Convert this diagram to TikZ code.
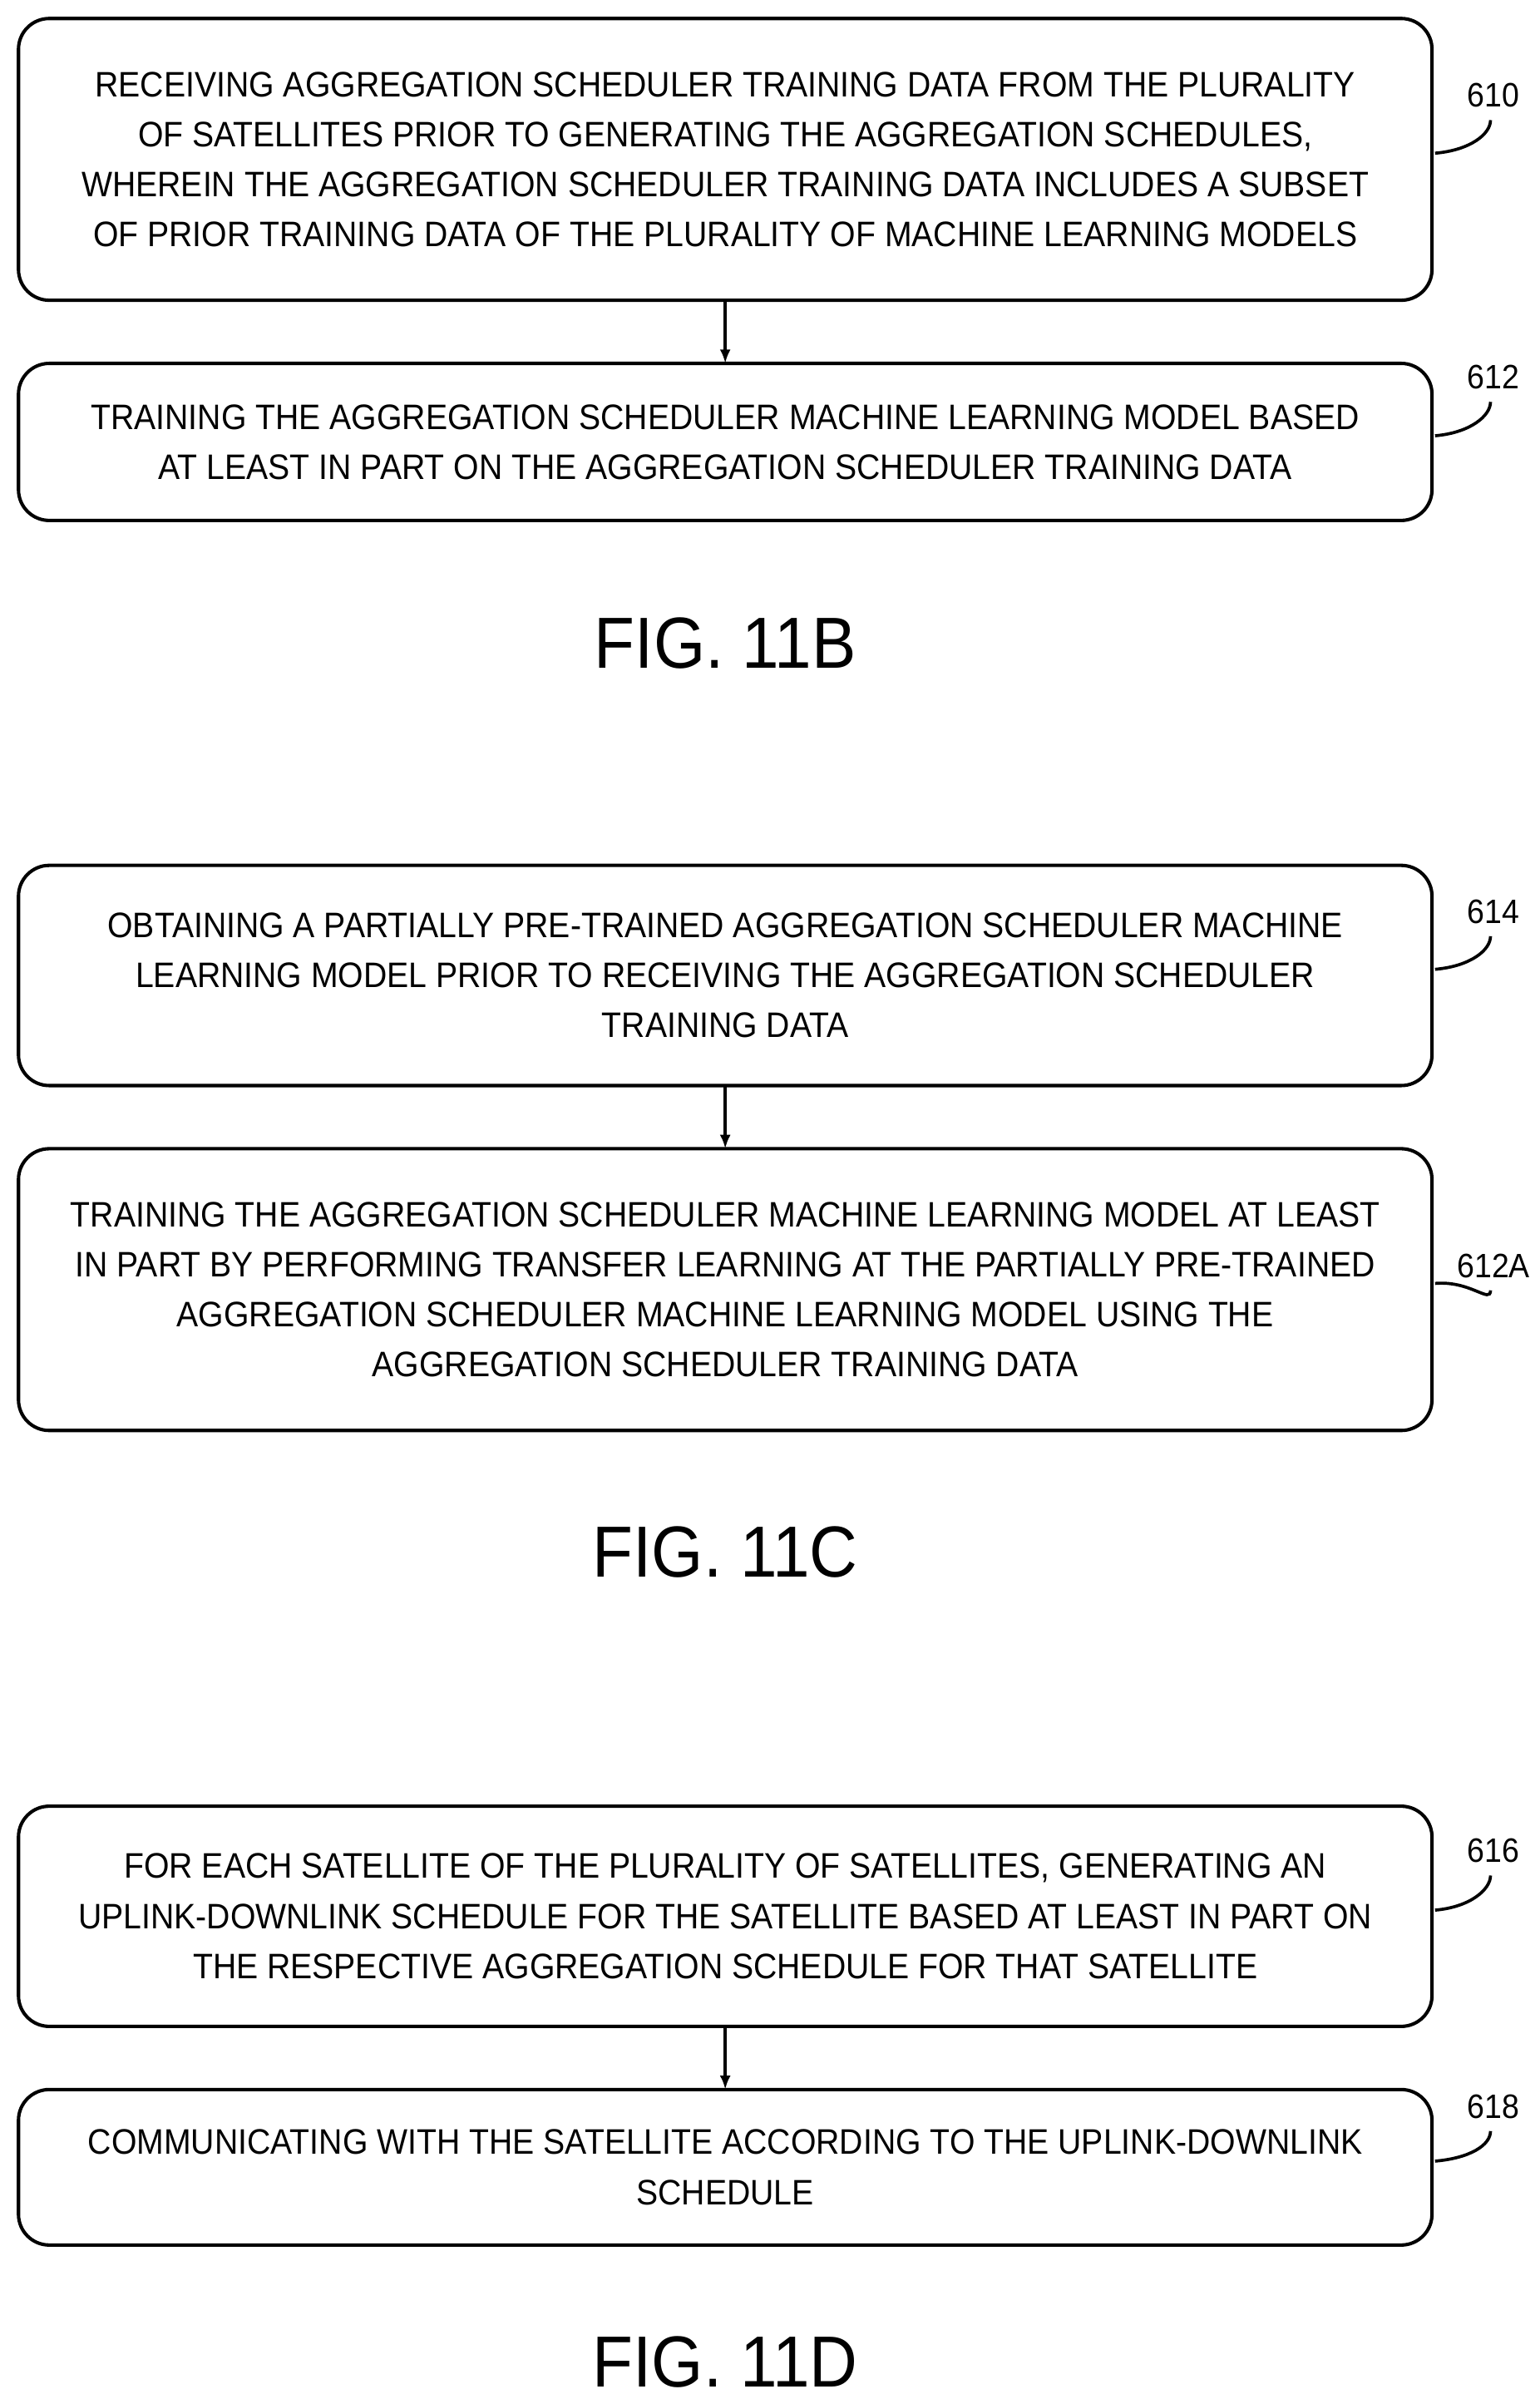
\documentclass[tikz,border=0pt]{standalone}
\usepackage{fontspec}
\setmainfont[FakeStretch=0.92]{Liberation Sans}
\usetikzlibrary{arrows.meta}
\begin{document}
\begin{tikzpicture}[x=1pt,y=-1pt,
  box/.style={draw,line width=2.2pt,rounded corners=20pt,inner sep=0pt},
  txt/.style={align=center,font=\fontsize{23}{32.5}\selectfont},
  lbl/.style={font=\fontsize{22}{26}\selectfont},
  fig/.style={font=\fontsize{47}{54}\selectfont},
  arr/.style={line width=2pt,-{Latex[length=9pt,width=7pt]}},
  lead/.style={line width=2pt}]
\useasboundingbox (0,0) rectangle (1000,1558);
\newcommand{\stepbox}[6]{%
  \draw[box] (12,#2) rectangle (930,#3);
  \node[txt] (#1) at (471,{(#2+#3)/2}) {#4};
  \node[lbl] (#1l) at (970,#5) {#6};
  \draw[lead] (932,{(#2+#3)/2-4}) .. controls (955,{(#2+#3)/2-6}) and (968,{#5+25}) .. (968,{#5+16});
}
\stepbox{b610}{12}{195}{RECEIVING AGGREGATION SCHEDULER TRAINING DATA FROM THE PLURALITY\\OF SATELLITES PRIOR TO GENERATING THE AGGREGATION SCHEDULES,\\WHEREIN THE AGGREGATION SCHEDULER TRAINING DATA INCLUDES A SUBSET\\OF PRIOR TRAINING DATA OF THE PLURALITY OF MACHINE LEARNING MODELS}{62}{610}
\stepbox{b612}{236}{338}{TRAINING THE AGGREGATION SCHEDULER MACHINE LEARNING MODEL BASED\\AT LEAST IN PART ON THE AGGREGATION SCHEDULER TRAINING DATA}{245}{612}
\stepbox{b614}{562}{705}{OBTAINING A PARTIALLY PRE-TRAINED AGGREGATION SCHEDULER MACHINE\\LEARNING MODEL PRIOR TO RECEIVING THE AGGREGATION SCHEDULER\\TRAINING DATA}{592}{614}
\stepbox{b612a}{746}{929}{TRAINING THE AGGREGATION SCHEDULER MACHINE LEARNING MODEL AT LEAST\\IN PART BY PERFORMING TRANSFER LEARNING AT THE PARTIALLY PRE-TRAINED\\AGGREGATION SCHEDULER MACHINE LEARNING MODEL USING THE\\AGGREGATION SCHEDULER TRAINING DATA}{822}{612A}
\stepbox{b616}{1173}{1316}{FOR EACH SATELLITE OF THE PLURALITY OF SATELLITES, GENERATING AN\\UPLINK-DOWNLINK SCHEDULE FOR THE SATELLITE BASED AT LEAST IN PART ON\\THE RESPECTIVE AGGREGATION SCHEDULE FOR THAT SATELLITE}{1202}{616}
\stepbox{b618}{1357}{1458}{COMMUNICATING WITH THE SATELLITE ACCORDING TO THE UPLINK-DOWNLINK\\SCHEDULE}{1368}{618}
\coordinate (a1) at (471,195); \coordinate (a2) at (471,236);
\coordinate (c1) at (471,705); \coordinate (c2) at (471,746);
\coordinate (d1) at (471,1316); \coordinate (d2) at (471,1357);
\draw[arr] (a1) -- (a2);
\draw[arr] (c1) -- (c2);
\draw[arr] (d1) -- (d2);
\node[fig] (f11b) at (471,418) {FIG. 11B};
\node[fig] (f11c) at (471,1008) {FIG. 11C};
\node[fig] (f11d) at (471,1534) {FIG. 11D};
\end{tikzpicture}
\end{document}
